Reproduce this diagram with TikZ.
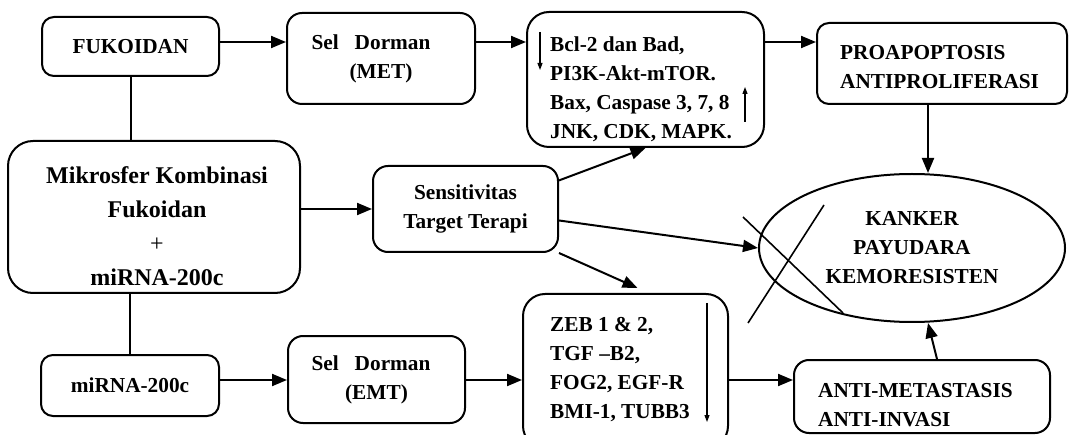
\documentclass[tikz,border=0pt]{standalone}
\usepackage{fontspec}
\setmainfont{Liberation Serif}
\usetikzlibrary{arrows.meta,shapes.geometric}

\tikzset{
  box/.style={draw,line width=2pt,rounded corners=12pt,inner sep=0pt,align=center},
  lbl/.style={inner sep=0pt,align=left},
  arr/.style={-{Triangle[length=15pt,width=12pt]},line width=2pt},
  tinyarr/.style={-{Triangle[length=7pt,width=5pt]},line width=1.1pt},
  cross/.style={line width=1.6pt},
}

\begin{document}
\begin{tikzpicture}[x=1pt,y=-1pt,font=\bfseries\fontsize{21.3}{29}\selectfont]
  \useasboundingbox (0,0) rectangle (1070,435);
  \clip (0,0) rectangle (1070,435);
  \coordinate (toprow) at (0,42);
  \coordinate (botrow) at (0,380);

  % top row
  \node[box,minimum width=177,minimum height=59] (fuk) at (130.5,46.5) {FUKOIDAN};
  \node[box,rounded corners=15pt,minimum width=188,minimum height=91] (met) at (381,58.5)
    {Sel~~~Dorman\hspace*{20pt}\\(MET)};
  \node[box,rounded corners=22pt,minimum width=237,minimum height=135] (bcl) at (645.5,79.5) {};
  \node[lbl,anchor=west] (bcltxt) at (550,89.5)
    {Bcl-2 dan Bad,\\PI3K-Akt-mTOR.\\Bax, Caspase 3, 7, 8\\JNK, CDK, MAPK.};
  \node[box,minimum width=250,minimum height=81] (proap) at (942,63.5) {};
  \node[lbl,anchor=west] (proaptxt) at (840,67) {PROAPOPTOSIS\\ANTIPROLIFERASI};

  % middle
  \node[box,rounded corners=25pt,minimum width=292,minimum height=152] (mikro) at (154,217) {};
  \node[inner sep=0pt,align=center,font=\bfseries\fontsize{24}{34}\selectfont] (mikrotxt) at (157,226)
    {Mikrosfer Kombinasi\\Fukoidan\\{\mdseries +}\\miRNA-200c};
  \node[box,rounded corners=15pt,minimum width=185,minimum height=86] (sens) at (465.5,209)
    {Sensitivitas\\Target Terapi};
  \node[draw,ellipse,line width=2pt,inner sep=0pt,align=center,minimum width=306,minimum height=148]
    (kanker) at (912,248) {KANKER\\PAYUDARA\\KEMORESISTEN};
  \draw[cross] (743,217) -- (843,313);
  \draw[cross] (824,205) -- (748,323);

  % bottom row
  \node[box,minimum width=178,minimum height=61] (mirna) at (130,385.5) {miRNA-200c};
  \node[box,rounded corners=15pt,minimum width=177,minimum height=87] (emt) at (376.5,379.5)
    {Sel~~~Dorman\hspace*{11pt}\\(EMT)};
  \node[box,rounded corners=22pt,minimum width=205,minimum height=154] (zeb) at (625.5,371) {};
  \node[lbl,anchor=west] (zebtxt) at (550,370)
    {ZEB 1 \& 2,\\TGF –B2,\\FOG2, EGF-R\\BMI-1, TUBB3};
  \node[box,rounded corners=15pt,minimum width=256,minimum height=73] (antimet) at (922,396.5) {};
  \node[lbl,anchor=west] (antimettxt) at (818,405) {ANTI-METASTASIS\\ANTI-INVASI};

  % arrows inside boxes
  \draw[tinyarr] (540,32) -- (540,70);
  \draw[tinyarr] (745,122) -- (745,87);
  \draw[tinyarr] (707,303) -- (707,422);

  % connectors
  \draw[arr] (fuk.east |- toprow) -- (met.west |- toprow);
  \draw[arr] (met.east |- toprow) -- (bcl.west |- toprow);
  \draw[arr] (bcl.east |- toprow) -- (proap.west |- toprow);
  \draw[arr] ([xshift=-14pt]proap.south) -- ([xshift=-14pt]proap.south |- kanker.north);
  \draw[line width=2pt] (fuk.south) -- (fuk.south |- mikro.north);
  \draw[line width=2pt] (mirna.north) -- (mirna.north |- mikro.south);
  \draw[arr] (mikro.east |- sens.west) -- (sens.west);
  \draw[arr] (sens.17) -- (bcl.south);
  \draw[arr] (sens.-7) -- (kanker.west);
  \draw[arr] (sens.south east) -- ([xshift=12pt,yshift=5pt]zeb.north);
  \draw[arr] (mirna.east |- botrow) -- (emt.west |- botrow);
  \draw[arr] (emt.east |- botrow) -- (zeb.west |- botrow);
  \draw[arr] (zeb.east |- botrow) -- (antimet.west |- botrow);
  \draw[arr] ([xshift=15pt]antimet.north) -- ([xshift=16pt]kanker.south);
\end{tikzpicture}
\end{document}
